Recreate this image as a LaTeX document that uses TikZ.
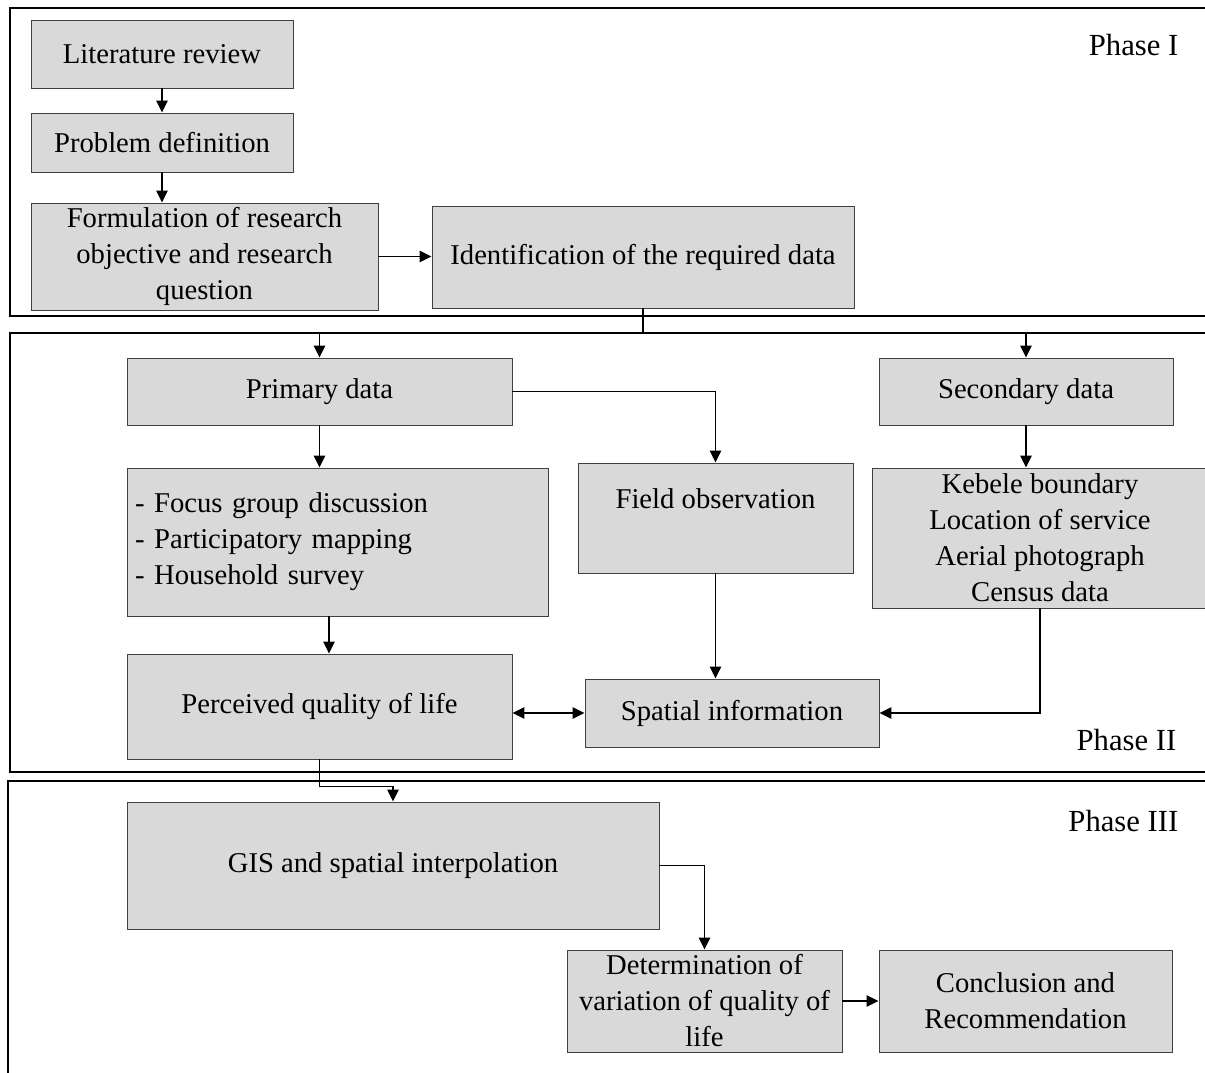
\documentclass[tikz,border=0pt]{standalone}
\usepackage{fontspec}
\setmainfont{Liberation Serif}
\usepackage{xcolor}
\usepackage{tikz}
\usetikzlibrary{arrows.meta,positioning,calc}
\definecolor{boxgray}{HTML}{D9D9D9}

\begin{document}
\begin{tikzpicture}[
  x=0.75pt, y=-0.75pt,
  every node/.style={font=\fontsize{21.5}{27}\selectfont},
  box/.style={draw=black!75, fill=boxgray, line width=0.7pt, inner xsep=4pt, inner ysep=0pt, align=center},
  >={Triangle[length=9pt,width=8.5pt]},
  arr/.style={->, line width=1.4pt},
  frame/.style={line width=1.9pt},
  phase/.style={anchor=base east, font=\fontsize{23}{27}\selectfont},
]
\useasboundingbox (0,0) rectangle (1205,1072);

% phase frames
\draw[frame] (1215,8) -| (10,316) -- (1215,316);
\draw[frame] (1215,333) -| (10,772) -- (1215,772);
\draw[frame] (1215,781) -| (8,1080);
\node[phase] (ph1) at (1183,55) {Phase I};
\node[phase] (ph2) at (1181,750) {Phase II};
\node[phase] (ph3) at (1183,831) {Phase III};

% phase I
\node[box, minimum width=196.5pt, minimum height=51pt] (lit) at (162,54) {Literature review};
\node[box, minimum width=196.5pt, minimum height=44.25pt] (prob) at (162,142.5) {Problem definition};
\node[box, minimum width=260.25pt, minimum height=80.25pt] (form) at (204.5,256.5) {Formulation of research\\objective and research\\question};
\node[box, minimum width=316.5pt, minimum height=76.5pt] (ident) at (643,257) {Identification of the required data};

% phase II
\node[box, minimum width=288.75pt, minimum height=50.25pt] (prim) at (319.5,391.5) {Primary data};
\node[box, minimum width=220.5pt, minimum height=50.25pt] (sec) at (1026,391.5) {Secondary data};
\node[box, minimum width=315.75pt, minimum height=111pt, text width=303.75pt, inner xsep=6pt, align=left] (focus) at (337.5,542) {- Focus group discussion\\- Participatory mapping\\- Household survey};
\node[box, minimum width=206.25pt, minimum height=82.5pt, text height=15pt, text depth=30pt] (field) at (715.5,518) {Field observation};
\node[box, minimum width=252pt, minimum height=105pt] (keb) at (1040,538) {Kebele boundary\\Location of service\\Aerial photograph\\Census data};
\node[box, minimum width=288.75pt, minimum height=78.75pt] (perc) at (319.5,706.5) {Perceived quality of life};
\node[box, minimum width=220.5pt, minimum height=51pt] (spat) at (732,713) {Spatial information};

% phase III
\node[box, minimum width=399pt, minimum height=95.25pt] (gis) at (393,865.5) {GIS and spatial interpolation};
\node[box, minimum width=206.25pt, minimum height=76.5pt] (det) at (704.5,1001) {Determination of\\variation of quality of\\life};
\node[box, minimum width=219.75pt, minimum height=76.5pt] (conc) at (1025.5,1001) {Conclusion and\\Recommendation};

\coordinate (split) at (643,333);
\draw[arr] (lit) -- (prob);
\draw[arr] (prob.south) -- (prob.south |- form.north);
\draw[arr] (form.east) -- (form.east -| ident.west);
\draw[arr] (ident.south) -- (split) -| (prim.north);
\draw[arr] (split) -| (sec.north);
\draw[arr] (prim.south) -- (prim.south |- focus.north);
\draw[arr] (prim.east) -| (field.north);
\draw[arr] (sec.south) -- (sec.south |- keb.north);
\draw[arr] ([xshift=-6.4pt]focus.south) -- ([xshift=-6.4pt]focus.south |- perc.north);
\draw[arr] (field.south) -- (field.south |- spat.north);
\draw[arr] (keb.south) |- (spat.east);
\draw[arr, <->] (spat.west -| perc.east) -- (spat.west);
\draw[arr] (perc.south) -- ++(0,27) -| (gis.north);
\draw[arr] (gis.east) -| (det.north);
\draw[arr] (det) -- (conc);
\end{tikzpicture}
\end{document}
